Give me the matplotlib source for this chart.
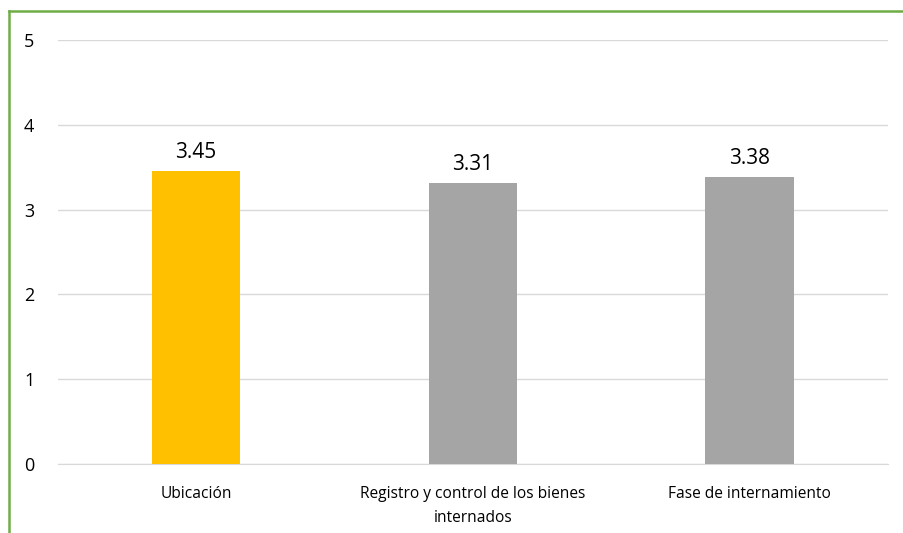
import matplotlib.pyplot as plt
from matplotlib.lines import Line2D

categories = ['Ubicación', 'Registro y control de los bienes\ninternados', 'Fase de internamiento']
values = [3.45, 3.31, 3.38]
colors = ['#FFC000', '#A5A5A5', '#A5A5A5']

plt.rcParams['font.family'] = ['Open Sans', 'DejaVu Sans']

fig = plt.figure(figsize=(9.04, 5.33), dpi=100)
ax = fig.add_axes([0.064, 0.1295, 0.918, 0.7955])

x = range(len(categories))
bars = ax.bar(x, values, width=0.32, color=colors, zorder=3)

for xi, v in zip(x, values):
    ax.annotate(f'{v:.2f}', (xi, v), xytext=(0, 6), textcoords='offset points',
                ha='center', va='bottom', fontsize=15, color='#000000')

ax.set_xlim(-0.5, 2.5)
ax.set_ylim(0, 5)
ax.set_yticks(range(6))
ax.grid(axis='y', color='#D9D9D9', linewidth=1, zorder=0)
ax.set_xticks(list(x))
ax.set_xticklabels(categories, fontsize=11.2, linespacing=1.65)
ax.tick_params(axis='y', length=0, pad=17, labelsize=13)
ax.tick_params(axis='x', length=0, pad=16)
for s in ['top', 'right', 'left']:
    ax.spines[s].set_visible(False)
ax.spines['bottom'].set_color('#D9D9D9')
ax.spines['bottom'].set_zorder(0)

# green frame on top and left
green = '#70AD47'
fig.add_artist(Line2D([0.0105, 1.0], [0.980, 0.980], color=green, linewidth=1.8, transform=fig.transFigure))
fig.add_artist(Line2D([0.0105, 0.0105], [0.0, 0.980], color=green, linewidth=1.8, transform=fig.transFigure))

fig.savefig('out.png', dpi=100)
